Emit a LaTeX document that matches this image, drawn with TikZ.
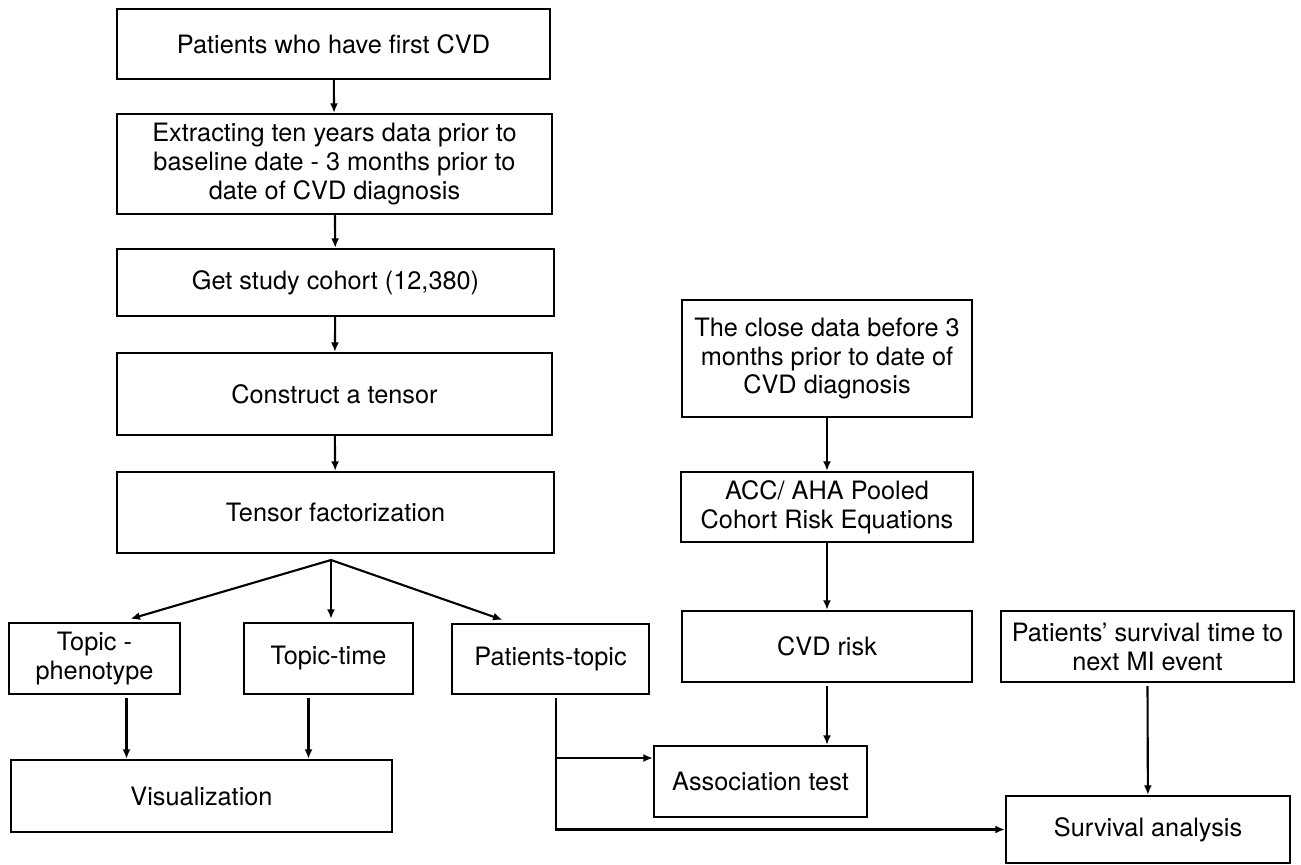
\documentclass[tikz,border=0pt]{standalone}
\usepackage{fontspec}
\setmainfont{TeX Gyre Heros}
\usepackage{tikz}
\usetikzlibrary{arrows.meta, positioning, calc}

\def\pxu{0.02cm}
\tikzset{
  box/.style={draw, line width=1.3pt, align=center, inner sep=0pt,
    font=\fontsize{14.4}{16.5}\selectfont},
  arr/.style={-{Latex[length=1.9mm,width=1.6mm]}, line width=1.2pt}
}

\begin{document}
\begin{tikzpicture}[x=0.02cm, y=-0.02cm]
      \useasboundingbox (0,0) rectangle (1301,865);

      % left column
      \node[box, minimum width=433*\pxu, minimum height=70*\pxu] (first) at (333.5,44) {Patients who have first CVD};
      \node[box, minimum width=435*\pxu, minimum height=100*\pxu] (extract) at (334.5,164)
        {Extracting ten years data prior to\\ baseline date - 3 months prior to\\ date of CVD diagnosis};
      \node[box, minimum width=437*\pxu, minimum height=67*\pxu] (cohort) at (335.5,282.5) {Get study cohort (12,380)};
      \node[box, minimum width=435*\pxu, minimum height=82*\pxu] (tensor) at (334.5,394) {Construct a tensor};
      \node[box, minimum width=437*\pxu, minimum height=81*\pxu] (factor) at (335.5,512.5) {Tensor factorization};

      % factor matrices
      \node[box, minimum width=171*\pxu, minimum height=71*\pxu] (pheno) at (94.5,658.5) {Topic -\\ phenotype};
      \node[box, minimum width=169*\pxu, minimum height=71*\pxu] (ttime) at (328.5,658.5) {Topic-time};
      \node[box, minimum width=197*\pxu, minimum height=70*\pxu] (ptopic) at (550.5,659) {Patients-topic};
      \node[box, minimum width=381*\pxu, minimum height=72*\pxu] (visual) at (201.5,796) {Visualization};

      % risk column
      \node[box, minimum width=290*\pxu, minimum height=117*\pxu] (close) at (827,358.5)
        {The close data before 3\\ months prior to date of\\ CVD diagnosis};
      \node[box, minimum width=292*\pxu, minimum height=70*\pxu] (pooled) at (827,507) {ACC/ AHA Pooled\\ Cohort Risk Equations};
      \node[box, minimum width=290*\pxu, minimum height=71*\pxu] (risk) at (827,646.5) {CVD risk};
      \node[box, minimum width=213*\pxu, minimum height=71*\pxu] (assoc) at (760.5,781.5) {Association test};

      % survival column
      \node[box, minimum width=293*\pxu, minimum height=71*\pxu] (stime) at (1147.5,646.5) {Patients’ survival time to\\ next MI event};
      \node[box, minimum width=284*\pxu, minimum height=67*\pxu] (surv) at (1148,829.5) {Survival analysis};

      \draw[arr] (first) -- (extract);
      \draw[arr] (extract) -- (cohort);
      \draw[arr] (cohort) -- (tensor);
      \draw[arr] (tensor) -- (factor);

      \coordinate (fan) at (331,560);
      \draw[arr] (fan) -- ([xshift=36*\pxu, yshift=3*\pxu]pheno.north);
      \draw[arr] (fan) -- ([yshift=3*\pxu]fan |- ttime.north);
      \draw[arr] (fan) -- ([xshift=-48*\pxu, yshift=3*\pxu]ptopic.north);

      \draw[arr] ([xshift=32*\pxu, yshift=-3*\pxu]pheno.south) -- ([xshift=32*\pxu]pheno.south |- visual.north);
      \draw[arr] ([xshift=-20*\pxu, yshift=-3*\pxu]ttime.south) -- ([xshift=-20*\pxu]ttime.south |- visual.north);

      \coordinate (tee) at (556,758);
      \draw[arr] ([yshift=-3*\pxu]tee |- ptopic.south) |- (surv.west);
      \draw[arr] (tee) -- (tee -| assoc.west);

      \draw[arr] (close) -- (pooled);
      \draw[arr] (pooled) -- (risk);
      \draw[arr] ([yshift=-3*\pxu]risk.south) -- (risk.south |- assoc.north);

      \draw[arr] ([yshift=-3*\pxu]stime.south) -- (surv);
\end{tikzpicture}
\end{document}
